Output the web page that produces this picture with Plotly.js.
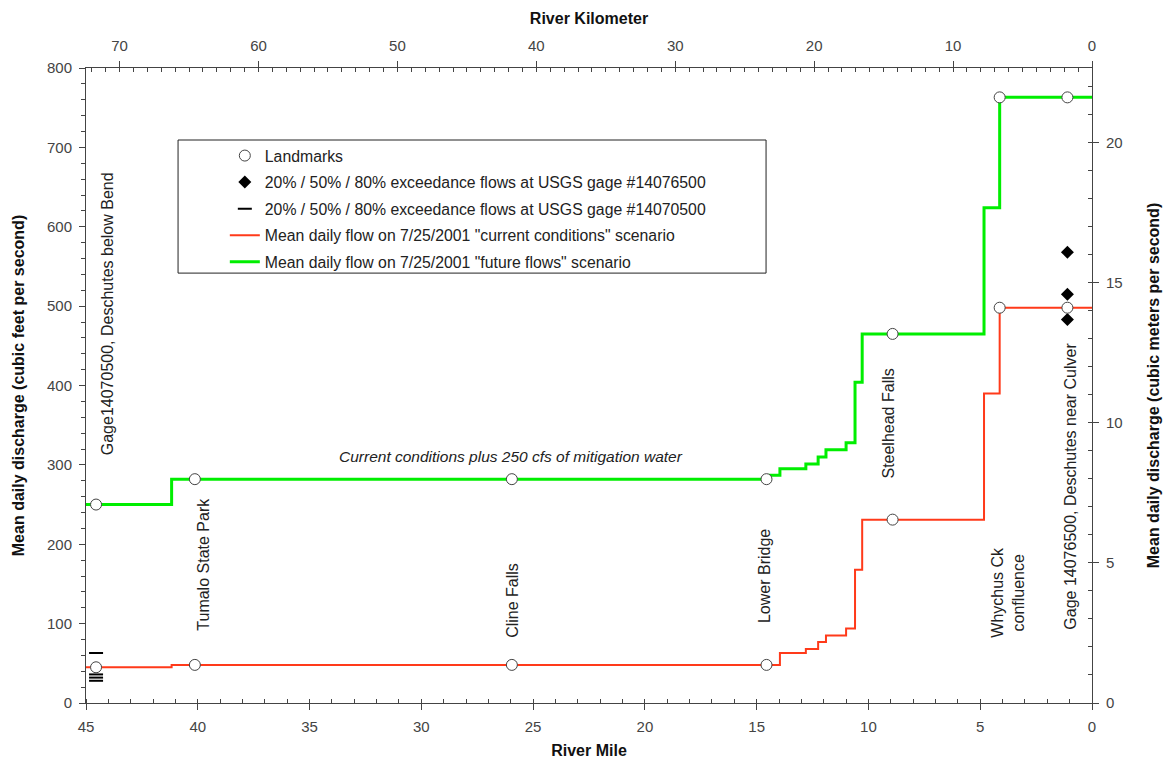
<!DOCTYPE html>
<html>
<head>
<meta charset="utf-8">
<script src="https://cdn.plot.ly/plotly-3.0.1.min.js"></script>
<style>html,body{margin:0;padding:0;background:#fff;}#chart{width:1172px;height:761px;}</style>
</head>
<body>
<div id="chart"></div>
<script>
// ---- data (River Mile, discharge in cfs) ----
const currentMile = [45, 41.17, 13.96, 12.8, 12.25, 11.9, 11.0, 10.6, 10.28, 4.83, 4.13, 0];
const currentCfs  = [45, 48, 63, 68, 77, 85, 94, 168, 231, 390, 498, 498];

const futureMile = [45, 41.17, 14.4, 13.96, 12.8, 12.25, 11.9, 11.0, 10.6, 10.28, 4.83, 4.13, 0];
const futureCfs  = [250, 282, 287, 295, 301, 310, 319, 328, 404, 465, 624, 763, 763];

const landmarkNames = ["Gage14070500, Deschutes below Bend", "Tumalo State Park", "Cline Falls",
                       "Lower Bridge", "Steelhead Falls", "Whychus Ck<br>confluence",
                       "Gage 14076500, Deschutes near Culver"];
const landmarkMile    = [44.55, 40.13, 25.95, 14.56, 8.92, 4.13, 1.1];
const landmarkCurrent = [45, 48, 48, 48, 231, 498, 498];
const landmarkFuture  = [250, 282, 282, 282, 465, 763, 763];

const culverGageMile = [1.1, 1.1, 1.1];
const culverExceedCfs = [568, 515, 483];

const bendGageMile = [44.55, 44.55, 44.55, 44.55];
const bendExceedCfs = [63, 36, 32, 28];

// label placement for landmark names (mile, bottom of text in cfs)
const labelMile   = [44.06, 39.72, 25.95, 14.68, 9.09, 3.77, 1.0];
const labelBottom = [309, 88, 80, 98, 280, 80, 90];

const noteText = "Current conditions plus 250 cfs of mitigation water";
const noteMile = 26.0, noteCfs = 311;

const CFS_TO_CMS = 0.0283168;
const MI_TO_KM = 1.609344;
const maxCfs = 800, maxMile = 45;

const legendNames = [
  "Landmarks",
  "20% / 50% / 80% exceedance flows at USGS gage #14076500",
  "20% / 50% / 80% exceedance flows at USGS gage #14070500",
  "Mean daily flow on 7/25/2001 \"current conditions\" scenario",
  "Mean daily flow on 7/25/2001 \"future flows\" scenario"
];

const FONT = "Liberation Sans, Arial, sans-serif";

const traces = [
  {x: currentMile, y: currentCfs, mode: "lines", line: {shape: "hv", color: "#ff3a1a", width: 2},
   name: legendNames[3], legendrank: 4, legendgroup: "d", xaxis: "x", yaxis: "y"},
  {x: futureMile, y: futureCfs, mode: "lines", line: {shape: "hv", color: "#00ee00", width: 3},
   name: legendNames[4], legendrank: 5, legendgroup: "e", xaxis: "x", yaxis: "y"},
  {x: culverGageMile, y: culverExceedCfs, mode: "markers",
   marker: {symbol: "diamond", size: 10, color: "#000"},
   name: legendNames[1], legendrank: 2, legendgroup: "b", xaxis: "x", yaxis: "y"},
  {x: bendGageMile, y: bendExceedCfs, mode: "markers",
   marker: {symbol: "line-ew", size: 10, line: {color: "#000", width: 2}},
   name: legendNames[2], legendrank: 3, legendgroup: "c", xaxis: "x", yaxis: "y"},
  {x: landmarkMile.concat(landmarkMile), y: landmarkCurrent.concat(landmarkFuture), mode: "markers",
   marker: {symbol: "circle", size: 11, color: "#fff", line: {color: "#444", width: 1}},
   name: legendNames[0], legendrank: 1, legendgroup: "a", xaxis: "x", yaxis: "y"}
];

const annotations = landmarkNames.map((t, i) => ({
  text: t, x: labelMile[i], y: labelBottom[i], xref: "x", yref: "y",
  textangle: -90, xanchor: "center", yanchor: "bottom", showarrow: false,
  font: {family: FONT, size: 16, color: "#222"}
}));
annotations.push({
  text: "<i>" + noteText + "</i>", x: noteMile, y: noteCfs, xref: "x", yref: "y",
  xanchor: "center", yanchor: "middle", showarrow: false,
  font: {family: FONT, size: 15.5, color: "#222"}
});

const axisCommon = {
  showgrid: false, zeroline: false, showline: true, linecolor: "#444", linewidth: 1,
  ticks: "outside", ticklen: 6, tickcolor: "#444", tickwidth: 1, ticklabelstandoff: 4,
  tickfont: {family: FONT, size: 15, color: "#444"}
};
const titleFont = {family: FONT, size: 16, color: "#111"};

const layout = {
  width: 1172, height: 761,
  margin: {l: 86, r: 80, t: 68, b: 58},
  paper_bgcolor: "#fff", plot_bgcolor: "#fff",
  font: {family: FONT},
  showlegend: true,
  legend: {x: 0.138, y: 0.8885, xanchor: "left", yanchor: "top",
           bgcolor: "rgba(0,0,0,0)", borderwidth: 0, traceorder: "grouped", tracegroupgap: 3,
           font: {family: FONT, size: 15.8, color: "#222"}},
  xaxis: Object.assign({}, axisCommon, {
    range: [maxMile, 0], dtick: 5, tick0: 0,
    minor: {dtick: 1, ticks: "inside", ticklen: 4, tickcolor: "#444"},
    title: {text: "<b>River Mile</b>", font: titleFont, standoff: 10}
  }),
  xaxis2: Object.assign({}, axisCommon, {
    overlaying: "x", side: "top", anchor: "y",
    range: [maxMile * MI_TO_KM, 0], dtick: 10, tick0: 0,
    minor: {dtick: 1, ticks: "inside", ticklen: 4, tickcolor: "#444"},
    title: {text: "<b>River Kilometer</b>", font: titleFont, standoff: 8}
  }),
  yaxis: Object.assign({}, axisCommon, {
    range: [0, maxCfs], dtick: 100, tick0: 0,
    minor: {dtick: 20, ticks: "outside", ticklen: 4, tickcolor: "#444"},
    title: {text: "<b>Mean daily discharge (cubic feet per second)</b>", font: titleFont, standoff: 18}
  }),
  yaxis2: Object.assign({}, axisCommon, {
    overlaying: "y", side: "right", anchor: "x",
    range: [0, maxCfs * CFS_TO_CMS], dtick: 5, tick0: 0,
    minor: {dtick: 1, ticks: "inside", ticklen: 4, tickcolor: "#444"},
    title: {text: "<b>Mean daily discharge (cubic meters per second)</b>", font: titleFont, standoff: 26}
  }),
  shapes: [{type: "rect", xref: "paper", yref: "paper", x0: 0.0915, x1: 0.676, y0: 0.677, y1: 0.8866,
            line: {color: "#222", width: 1}, fillcolor: "rgba(0,0,0,0)"}],
  annotations: annotations
};

// invisible traces to activate secondary axes
traces.push({x: [0], y: [0], xaxis: "x2", yaxis: "y", mode: "markers", marker: {opacity: 0}, showlegend: false, hoverinfo: "skip"});
traces.push({x: [0], y: [0], xaxis: "x", yaxis: "y2", mode: "markers", marker: {opacity: 0}, showlegend: false, hoverinfo: "skip"});

Plotly.newPlot("chart", traces, layout, {displayModeBar: false, staticPlot: true});
</script>
</body>
</html>
